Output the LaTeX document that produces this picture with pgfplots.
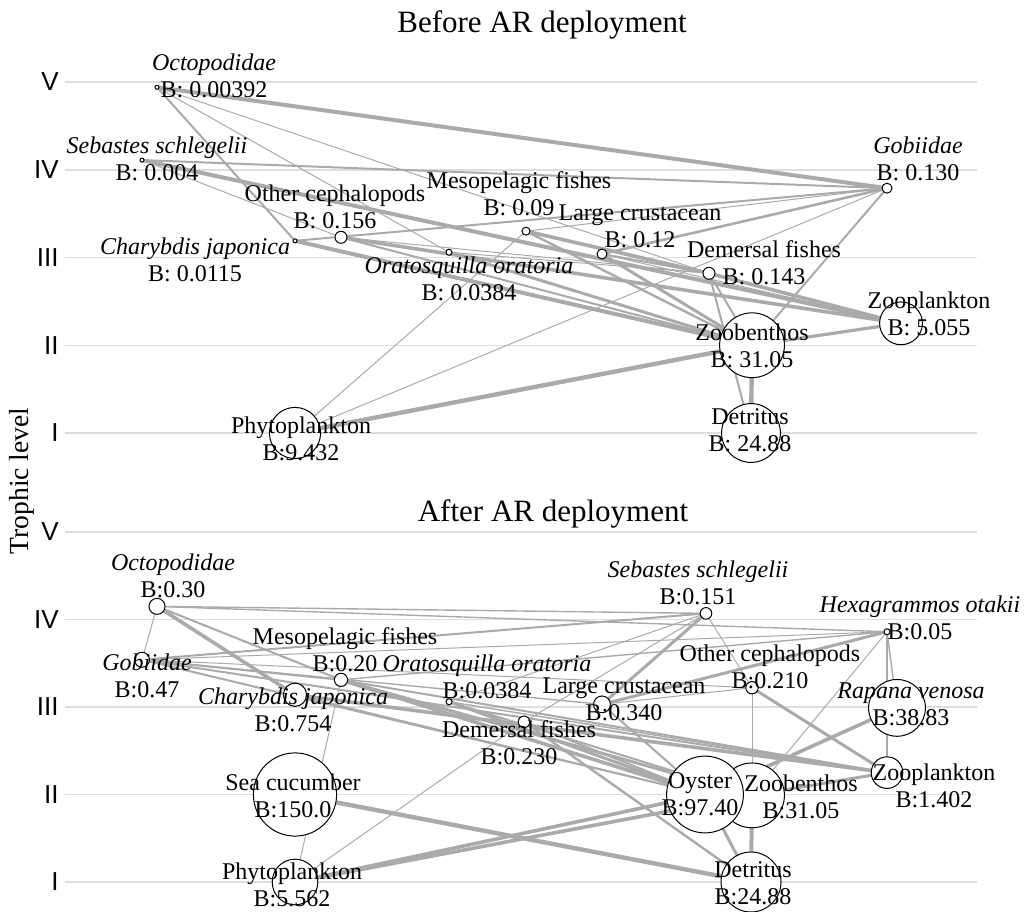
\documentclass[border=0pt]{standalone}
\usepackage{pgfplots}
\pgfplotsset{compat=1.18}
\usepackage{fontspec}
\setmainfont{Liberation Serif}
\newfontfamily\tickfont{Liberation Sans}
\definecolor{edgegray}{RGB}{170,170,170}
\definecolor{gridgray}{RGB}{222,222,222}

\newcommand{\defnode}[3]{\expandafter\def\csname #1x\endcsname{#2}\expandafter\def\csname #1y\endcsname{#3}}
\newcommand{\E}[3]{\edef\tmp{\noexpand\addplot[edge, line width=#1pt] coordinates {(\csname #2x\endcsname,\csname #2y\endcsname) (\csname #3x\endcsname,\csname #3y\endcsname)};}\tmp}
\newcommand{\C}[2]{\edef\tmp{\noexpand\addplot[circ, mark size=#2pt] coordinates {(\csname #1x\endcsname,\csname #1y\endcsname)};}\tmp}
\def\labelsafter{}
\makeatletter
\newcommand{\Lab}[5]{\coordinate (#1) at (axis cs:#2,#3);\g@addto@macro\labelsafter{\node[lab] at (#1) {#4\\#5};}}
\makeatother

\pgfplotsset{
  edge/.style={draw=edgegray, forget plot, no marks},
  circ/.style={only marks, mark=*, mark options={draw=black, fill=white, line width=0.5pt}, forget plot},
  fw/.style={
    scale only axis, width=456pt, xmin=65, xmax=977, ymin=1, ymax=5,
    axis line style={draw=none}, xtick=\empty, ytick={1,2,3,4,5},
    yticklabels={I,II,III,IV,V}, ymajorgrids, major grid style={gridgray, line width=0.75pt},
    tick style={draw=none}, clip=false,
    yticklabel style={font=\tickfont\fontsize{13}{15}\selectfont, inner sep=0pt, xshift=-3pt},
  },
}
\tikzset{lab/.style={align=center, font=\fontsize{12}{13.5}\selectfont, inner sep=0pt}}

% node positions: x (pixel column), y (trophic level)
\defnode{tOc}{157}{4.94}
\defnode{tSe}{142}{4.11}
\defnode{tOC}{341}{3.23}
\defnode{tCh}{295}{3.19}
\defnode{tOr}{449}{3.06}
\defnode{tMe}{526}{3.30}
\defnode{tLC}{602}{3.04}
\defnode{tDF}{709}{2.82}
\defnode{tGo}{887}{3.79}
\defnode{tZp}{901}{2.25}
\defnode{tZb}{752}{2.00}
\defnode{tDe}{751}{1.00}
\defnode{tPh}{295}{1.00}

\defnode{bOc}{157}{4.15}
\defnode{bGo}{142}{3.54}
\defnode{bCh}{295}{3.14}
\defnode{bMe}{341}{3.31}
\defnode{bOr}{449}{3.06}
\defnode{bDF}{524}{2.83}
\defnode{bLC}{602}{3.03}
\defnode{bSc}{295}{2.00}
\defnode{bPh}{295}{1.00}
\defnode{bSs}{706}{4.07}
\defnode{bHx}{887}{3.86}
\defnode{bOC}{752}{3.22}
\defnode{bRv}{897}{2.99}
\defnode{bZp}{887}{2.25}
\defnode{bOy}{705}{2.00}
\defnode{bZb}{752}{1.99}
\defnode{bDe}{751}{1.00}

\begin{document}
\begin{tikzpicture}
\path[use as bounding box] (0,0) rectangle (516pt,455.5pt);

\begin{axis}[fw, height=175.5pt, at={(32.5pt,239pt)}, anchor=south west]
\E{2}{tOc}{tGo}
\E{1}{tOc}{tCh}
\E{0.5}{tOc}{tOr}
\E{0.5}{tOc}{tDF}
\E{1}{tSe}{tGo}
\E{2}{tSe}{tZp}
\E{0.5}{tSe}{tOC}
\E{1}{tCh}{tGo}
\E{2}{tCh}{tZb}
\E{1.8}{tOC}{tZp}
\E{1}{tOC}{tZb}
\E{0.5}{tOC}{tDF}
\E{1.5}{tOr}{tZb}
\E{0.5}{tOr}{tDF}
\E{1.8}{tMe}{tDF}
\E{1.2}{tMe}{tZb}
\E{0.5}{tMe}{tGo}
\E{0.5}{tMe}{tPh}
\E{1.3}{tLC}{tGo}
\E{1.5}{tLC}{tZb}
\E{1}{tLC}{tDF}
\E{0.5}{tLC}{tZp}
\E{1}{tDF}{tZb}
\E{1}{tDF}{tDe}
\E{1.8}{tDF}{tZp}
\E{1.6}{tZb}{tZp}
\E{2.2}{tZb}{tDe}
\E{1}{tZb}{tGo}
\E{2.2}{tPh}{tZb}
\E{0.5}{tPh}{tGo}
\C{tOc}{1}
\C{tSe}{1}
\C{tOC}{3}
\C{tCh}{1}
\C{tOr}{1.5}
\C{tMe}{2}
\C{tLC}{2.5}
\C{tDF}{3}
\C{tGo}{2.5}
\C{tZp}{10.7}
\C{tZb}{16.2}
\C{tDe}{14.7}
\C{tPh}{12.8}
\Lab{lt1}{214}{5.074}{\textit{Octopodidae}}{B: 0.00392}
\Lab{lt2}{157}{4.128}{\textit{Sebastes schlegelii}}{B: 0.004}
\Lab{lt3}{335}{3.581}{Other cephalopods}{B: 0.156}
\Lab{lt4}{195}{2.977}{\textit{Charybdis japonica}}{B: 0.0115}
\Lab{lt5}{469}{2.761}{\textit{Oratosquilla oratoria}}{B: 0.0384}
\Lab{lt6}{519}{3.729}{Mesopelagic fishes}{B: 0.09}
\Lab{lt7}{640}{3.359}{Large crustacean}{B: 0.12}
\Lab{lt8}{764}{2.937}{Demersal fishes}{B: 0.143}
\Lab{lt9}{918}{4.123}{\textit{Gobiidae}}{B: 0.130}
\Lab{lt10}{929}{2.362}{Zooplankton}{B: 5.055}
\Lab{lt11}{752}{1.997}{Zoobenthos}{B: 31.05}
\Lab{lt12}{750}{1.028}{Detritus}{B: 24.88}
\Lab{lt13}{301}{0.937}{Phytoplankton}{B:9.432}
\end{axis}

\begin{axis}[fw, height=175pt, at={(32.5pt,14.5pt)}, anchor=south west]
\E{0.5}{bOc}{bGo}
\E{1.8}{bOc}{bCh}
\E{1}{bOc}{bMe}
\E{0.7}{bOc}{bHx}
\E{0.7}{bOc}{bSs}
\E{1}{bGo}{bSs}
\E{1}{bGo}{bMe}
\E{0.7}{bGo}{bLC}
\E{0.5}{bGo}{bOC}
\E{1}{bGo}{bZp}
\E{1}{bGo}{bOy}
\E{0.5}{bGo}{bHx}
\E{1.8}{bCh}{bZp}
\E{0.7}{bCh}{bOy}
\E{0.5}{bMe}{bPh}
\E{1.8}{bMe}{bOy}
\E{1.5}{bMe}{bZb}
\E{1}{bMe}{bZp}
\E{0.7}{bMe}{bHx}
\E{1.5}{bOr}{bOy}
\E{1}{bOr}{bZb}
\E{0.7}{bOr}{bZp}
\E{1.2}{bDF}{bDe}
\E{1}{bDF}{bOy}
\E{0.5}{bDF}{bSs}
\E{1.5}{bLC}{bSs}
\E{1.5}{bLC}{bHx}
\E{1}{bLC}{bOy}
\E{0.5}{bLC}{bOC}
\E{0.5}{bSs}{bOC}
\E{0.5}{bSs}{bOr}
\E{1.5}{bOC}{bZp}
\E{0.5}{bOC}{bZb}
\E{0.7}{bHx}{bRv}
\E{0.7}{bHx}{bZp}
\E{0.5}{bHx}{bZb}
\E{1.8}{bRv}{bOy}
\E{1.5}{bZp}{bZb}
\E{2}{bZb}{bDe}
\E{1.5}{bOy}{bDe}
\E{2.2}{bSc}{bDe}
\E{1.8}{bPh}{bOy}
\E{1.8}{bPh}{bZb}
\E{0.5}{bPh}{bDF}
\C{bOc}{4}
\C{bGo}{3.75}
\C{bCh}{5.8}
\C{bMe}{3.3}
\C{bOr}{1.5}
\C{bDF}{2.9}
\C{bLC}{4.2}
\C{bSc}{20.8}
\C{bPh}{11.4}
\C{bSs}{2.9}
\C{bHx}{1.5}
\C{bOC}{3.1}
\C{bRv}{14.2}
\C{bZp}{7.9}
\C{bZb}{16.2}
\C{bOy}{19.2}
\C{bDe}{15}
\Lab{lb1}{173}{4.497}{\textit{Octopodidae}}{B:0.30}
\Lab{lb2}{147}{3.354}{\textit{Gobiidae}}{B:0.47}
\Lab{lb3}{293}{2.966}{\textit{Charybdis japonica}}{B:0.754}
\Lab{lb4}{345}{3.651}{Mesopelagic fishes}{B:0.20}
\Lab{lb5}{487}{3.343}{\textit{Oratosquilla oratoria}}{B:0.0384}
\Lab{lb6}{519}{2.589}{Demersal fishes}{B:0.230}
\Lab{lb7}{624}{3.091}{Large crustacean}{B:0.340}
\Lab{lb8}{293}{1.989}{Sea cucumber}{B:150.0}
\Lab{lb9}{292}{0.966}{Phytoplankton}{B:5.562}
\Lab{lb10}{698}{4.423}{\textit{Sebastes schlegelii}}{B:0.151}
\Lab{lb11}{920}{4.023}{\textit{Hexagrammos otakii}}{B:0.05}
\Lab{lb12}{770}{3.463}{Other cephalopods}{B:0.210}
\Lab{lb13}{911}{3.029}{\textit{Rapana venosa}}{B:38.83}
\Lab{lb14}{934}{2.097}{Zooplankton}{B:1.402}
\Lab{lb15}{700}{2.0}{Oyster}{B:97.40}
\Lab{lb16}{801}{1.971}{Zoobenthos}{B:31.05}
\Lab{lb17}{753}{0.989}{Detritus}{B:24.88}
\end{axis}

\labelsafter

\node[font=\fontsize{15.5}{18}\selectfont, anchor=base, inner sep=0pt] at (271pt,439.25pt) {Before AR deployment};
\node[font=\fontsize{15.5}{18}\selectfont, anchor=base, inner sep=0pt] at (276.5pt,194.65pt) {After AR deployment};
\node[rotate=90, font=\fontsize{13.8}{16}\selectfont, inner sep=0pt] at (11pt,215pt) {Trophic level};
\end{tikzpicture}
\end{document}
